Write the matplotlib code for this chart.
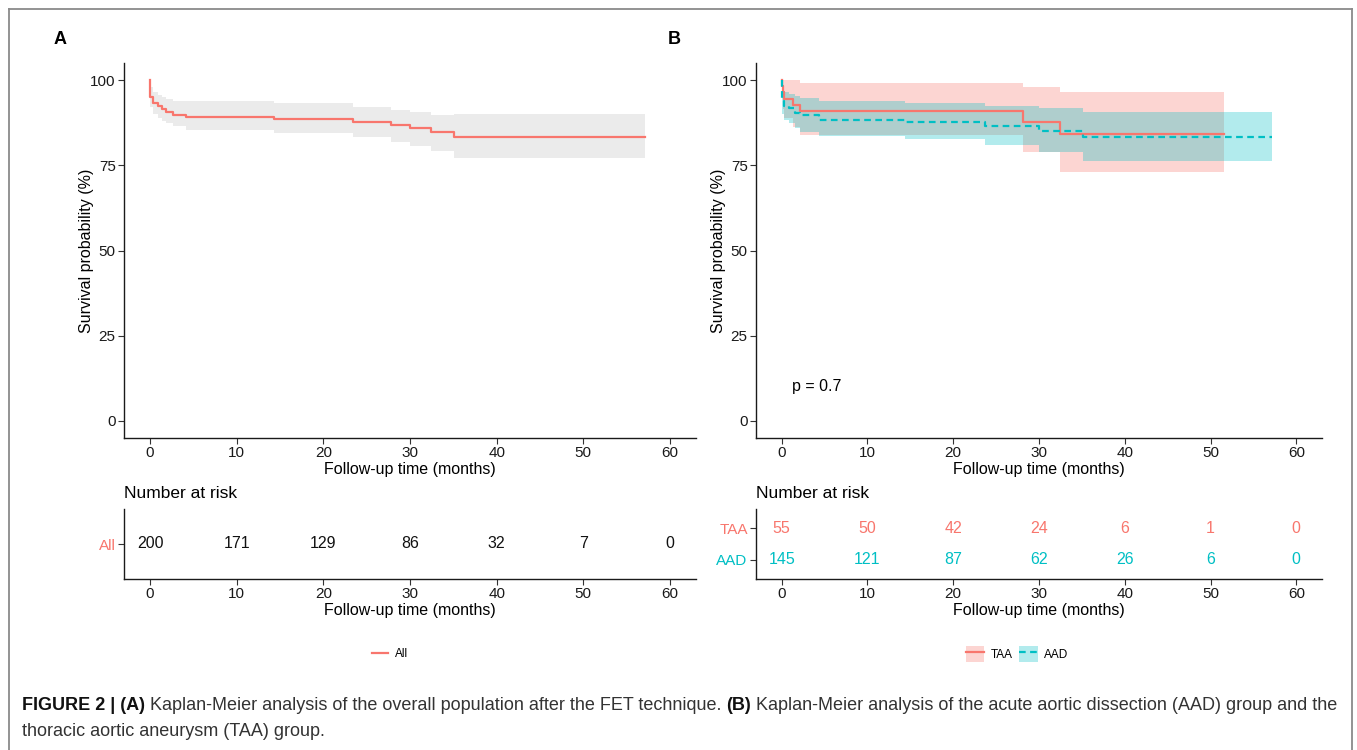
import numpy as np
import matplotlib
matplotlib.use("Agg")
import matplotlib.pyplot as plt
from matplotlib.lines import Line2D
from matplotlib.patches import Patch

plt.rcParams['font.family'] = ['Liberation Sans', 'DejaVu Sans']

# ---- data ----
# panel A, all patients
a_time  = [0, 0, 0.3, 0.95, 1.35, 1.9, 2.7, 4.2, 14.3, 23.4, 27.8, 30.0, 32.4, 35.1, 57.1]
a_surv  = [100, 95.1, 93.2, 92.4, 91.4, 90.7, 89.7, 89.2, 88.6, 87.8, 86.8, 85.8, 84.8, 83.2, 83.2]
a_upper = [100, 98.0, 96.6, 95.6, 95.0, 94.5, 94.0, 93.9, 93.2, 92.2, 91.2, 90.5, 89.7, 89.9, 89.9]
a_lower = [100, 92.2, 90.0, 89.0, 88.0, 87.3, 86.4, 85.3, 84.4, 83.2, 81.9, 80.6, 79.3, 77.2, 77.2]

# panel B, TAA
t_time  = [0, 0.05, 0.15, 0.3, 1.3, 2.1, 28.1, 32.5, 51.6]
t_surv  = [100, 98.2, 96.4, 94.5, 92.7, 90.9, 87.8, 84.1, 84.1]
t_upper = [100, 100, 100, 100, 100, 99.0, 97.9, 96.6, 96.6]
t_lower = [100, 94.7, 91.6, 88.8, 86.2, 83.9, 79.0, 73.1, 73.1]

# panel B, AAD
d_time  = [0, 0.05, 0.3, 0.9, 1.5, 2.1, 4.4, 14.4, 23.7, 30.0, 35.1, 57.2]
d_surv  = [100, 93.8, 92.4, 91.7, 90.3, 89.7, 88.3, 87.6, 86.5, 85.2, 83.2, 83.2]
d_upper = [100, 97.8, 96.6, 96.0, 95.2, 94.6, 93.9, 93.4, 92.4, 91.7, 90.7, 90.7]
d_lower = [100, 90.0, 88.3, 87.4, 85.8, 84.8, 83.6, 82.6, 80.9, 79.0, 76.4, 76.4]

risk_times = [0, 10, 20, 30, 40, 50, 60]
all_risk = [200, 171, 129, 86, 32, 7, 0]
taa_risk = [55, 50, 42, 24, 6, 1, 0]
aad_risk = [145, 121, 87, 62, 26, 6, 0]

RED = '#F8766D'
TEAL = '#00BFC4'
W, H = 1357, 750

fig = plt.figure(figsize=(W / 100, H / 100), dpi=100)


def box(x0, y0, x1, y1):
    # pixel box (top-left origin) -> figure fraction rect
    return [x0 / W, 1 - y1 / H, (x1 - x0) / W, (y1 - y0) / H]


def style(ax):
    for s in ['top', 'right']:
        ax.spines[s].set_visible(False)
    for s in ['left', 'bottom']:
        ax.spines[s].set_linewidth(1.0)
        ax.spines[s].set_color('#1a1a1a')
    ax.tick_params(length=4, width=0.8, color='#333333', labelsize=11,
                   labelcolor='#1a1a1a', pad=2)


def km_axes(rect):
    ax = fig.add_axes(rect)
    style(ax)
    ax.set_xlim(-3, 63)
    ax.set_ylim(-5, 105)
    ax.set_xticks(risk_times)
    ax.set_yticks([0, 25, 50, 75, 100])
    ax.set_xlabel('Follow-up time (months)', fontsize=11.5, labelpad=1)
    ax.set_ylabel('Survival probability (%)', fontsize=11.5, labelpad=-3)
    return ax


def risk_axes(rect, labels, colors):
    ax = fig.add_axes(rect)
    style(ax)
    ax.set_xlim(-3, 63)
    n = len(labels)
    ax.set_ylim(0.4, n + 0.6)
    ax.set_xticks(risk_times)
    ax.set_yticks(range(1, n + 1))
    ax.set_yticklabels(labels, fontsize=11)
    for lab, c in zip(ax.get_yticklabels(), colors):
        lab.set_color(c)
    ax.set_xlabel('Follow-up time (months)', fontsize=11.5, labelpad=1)
    ax.set_title('Number at risk', loc='left', fontsize=12.5, pad=8, x=0.0)
    return ax


# ---- panel A ----
axA = km_axes(box(124, 63, 696, 438))
axA.fill_between(a_time, a_lower, a_upper, step='post', color='#EBEBEB', lw=0)
axA.step(a_time, a_surv, where='post', color=RED, lw=1.6)

rA = risk_axes(box(124, 509, 696, 579), ['All'], [RED])
for t, v in zip(risk_times, all_risk):
    rA.text(t, 1, str(v), ha='center', va='center', fontsize=11.5, color='#111111')

# ---- panel B ----
axB = km_axes(box(756, 63, 1322, 438))
axB.fill_between(t_time, t_lower, t_upper, step='post', color=RED, alpha=0.3, lw=0)
axB.step(t_time, t_surv, where='post', color=RED, lw=1.6)
axB.fill_between(d_time, d_lower, d_upper, step='post', color=TEAL, alpha=0.3, lw=0)
axB.step(d_time, d_surv, where='post', color=TEAL, lw=1.6, dashes=(3, 2))
axB.text(1.2, 10, 'p = 0.7', fontsize=11.5, va='center', ha='left')

rB = risk_axes(box(756, 509, 1322, 579), ['AAD', 'TAA'], [TEAL, RED])
for t, v in zip(risk_times, taa_risk):
    rB.text(t, 2, str(v), ha='center', va='center', fontsize=11.5, color=RED)
for t, v in zip(risk_times, aad_risk):
    rB.text(t, 1, str(v), ha='center', va='center', fontsize=11.5, color=TEAL)

# ---- legends ----
fig.legend(handles=[Line2D([], [], color=RED, lw=1.6)], labels=['All'],
           loc='center', bbox_to_anchor=(390 / W, 1 - 654 / H), frameon=False,
           fontsize=8.5, handlelength=1.4, handletextpad=0.6)
hT = (Patch(facecolor=RED, alpha=0.3, lw=0), Line2D([], [], color=RED, lw=1.6))
hD = (Patch(facecolor=TEAL, alpha=0.3, lw=0), Line2D([], [], color=TEAL, lw=1.6, dashes=(3, 2)))
fig.legend(handles=[hT, hD], labels=['TAA', 'AAD'], ncol=2,
           loc='center', bbox_to_anchor=(1017 / W, 1 - 654 / H), frameon=False,
           fontsize=8.5, handlelength=1.6, handleheight=1.6, handletextpad=0.5,
           columnspacing=0.6)

# ---- panel letters ----
fig.text(60 / W, 1 - 40 / H, 'A', fontsize=13, fontweight='bold', ha='center', va='center')
fig.text(674 / W, 1 - 40 / H, 'B', fontsize=13, fontweight='bold', ha='center', va='center')

# ---- frame round the figure (open at the bottom) ----
fx0, fx1, fy = 9 / W, 1352 / W, 1 - 9 / H
for xs, ys in [([fx0, fx0], [0, fy]), ([fx0, fx1], [fy, fy]), ([fx1, fx1], [fy, 0])]:
    fig.add_artist(Line2D(xs, ys, color='#8a8a8a', lw=1.3, transform=fig.transFigure))

# ---- caption, pieces placed one after another ----
renderer = fig.canvas.get_renderer()
cap_size = 12.95
lines = [
    [('FIGURE 2 | (A)', True), (' Kaplan-Meier analysis of the overall population after the FET technique. ', False),
     ('(B)', True), (' Kaplan-Meier analysis of the acute aortic dissection (AAD) group and the', False)],
    [('thoracic aortic aneurysm (TAA) group.', False)],
]
for yy, parts in zip([706, 732], lines):
    x = 22
    for txt, bold in parts:
        t = fig.text(x / W, 1 - yy / H, txt, fontsize=cap_size, va='center', ha='left',
                     fontweight='bold' if bold else 'normal',
                     color='#111111' if bold else '#333333')
        x += t.get_window_extent(renderer).width

fig.savefig('out.png', dpi=100)
